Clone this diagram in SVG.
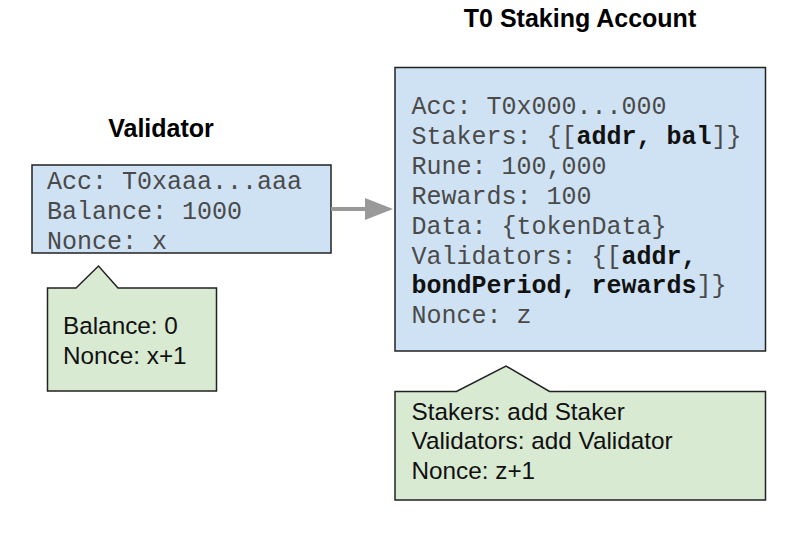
<svg xmlns="http://www.w3.org/2000/svg" width="800" height="534" viewBox="0 0 800 534">
<style>
.title{font-family:"Liberation Sans",Arial,sans-serif;font-weight:bold;font-size:25px;fill:#000;text-anchor:middle}
.mono{font-family:"Liberation Mono","Courier New",monospace;font-size:25px;fill:#4a4a4a}
.mono .b{font-weight:bold;fill:#111}
.sans{font-family:"Liberation Sans",Arial,sans-serif;font-size:24.3px;fill:#111}
.blue{fill:#cfe2f3;stroke:#222;stroke-width:1.5}
.green{fill:#d9ead3;stroke:#222;stroke-width:1.5}
</style>
<rect width="800" height="534" fill="#fff"/>
<g id="validator">
<text class="title" x="161" y="137">Validator</text>
<rect class="blue" x="32" y="165" width="299" height="88"/>
<text class="mono" x="47" y="189">Acc: T0xaaa...aaa</text>
<text class="mono" x="47" y="219">Balance: 1000</text>
<text class="mono" x="47" y="249">Nonce: x</text>
</g>
<g id="validator-note">
<path class="green" d="M47.5,288 L76,288 L98.5,266 L118,288 L216.5,288 L216.5,391 L47.5,391 Z"/>
<text class="sans" x="63" y="334">Balance: 0</text>
<text class="sans" x="63" y="364">Nonce: x+1</text>
</g>
<g id="staking-account">
<text class="title" x="580" y="27">T0 Staking Account</text>
<rect class="blue" x="395" y="67.5" width="370.5" height="283.5"/>
<text class="mono" x="411.5" y="114">Acc: T0x000...000</text>
<text class="mono" x="411.5" y="144">Stakers: {[<tspan class="b">addr, bal</tspan>]}</text>
<text class="mono" x="411.5" y="174">Rune: 100,000</text>
<text class="mono" x="411.5" y="204">Rewards: 100</text>
<text class="mono" x="411.5" y="234">Data: {tokenData}</text>
<text class="mono" x="411.5" y="264">Validators: {[<tspan class="b">addr,</tspan></text>
<text class="mono" x="411.5" y="293"><tspan class="b">bondPeriod, rewards</tspan>]}</text>
<text class="mono" x="411.5" y="323">Nonce: z</text>
</g>
<g id="staking-note">
<path class="green" d="M395,391.5 L456.5,391.5 L506,366 L549.5,391.5 L765.5,391.5 L765.5,500 L395,500 Z"/>
<text class="sans" x="411.5" y="420">Stakers: add Staker</text>
<text class="sans" x="411.5" y="449">Validators: add Validator</text>
<text class="sans" x="411.5" y="479">Nonce: z+1</text>
</g>
<g id="connectors">
<line x1="331" y1="209" x2="366" y2="209" stroke="#999" stroke-width="4"/>
<polygon points="365,198 393,209 365,220" fill="#999"/>
</g>
</svg>
